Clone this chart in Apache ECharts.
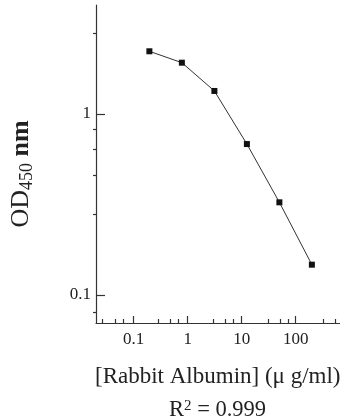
<!DOCTYPE html>
<html>
<head>
<meta charset="utf-8">
<script src="https://cdn.jsdelivr.net/npm/echarts@6/dist/echarts.min.js"></script>
<style>html,body{margin:0;padding:0;background:#fff}#c{width:342px;height:420px}</style>
</head>
<body>
<div id="c"></div>
<script>
var concentration = [0.195, 0.78, 3.125, 12.5, 50, 200];
var od450 = [2.22, 1.92, 1.34, 0.682, 0.325, 0.147];
var xMajorTicks = [0.1, 1, 10, 100];
var xMinorTicks = [0.03, 0.05, 0.07, 0.3, 0.5, 0.7, 3, 5, 7, 30, 50, 70, 300, 500];
var yMajorTicks = [0.1, 1];
var yMinorTicks = [0.08, 0.28, 0.46, 0.64, 0.82, 2.8];
var xRange = [0.02, 650];
var yRange = [0.07, 4];

var FONT = 'Liberation Serif';
var INK = '#222';
var chart = echarts.init(document.getElementById('c'), null, {renderer: 'canvas'});
var gridBox = {left: 93, top: 5, right: 0, bottom: 97};
function fmt(v){ return String(+v.toPrecision(6)); }

chart.setOption({
  animation: false,
  backgroundColor: '#fff',
  title: {
    text: 'R{sup|2} = 0.999',
    left: 164, top: 394,
    textStyle: {
      fontFamily: FONT, fontSize: 22.5, fontWeight: 'normal', color: INK,
      rich: {sup: {fontFamily: FONT, fontSize: 15, color: INK, verticalAlign: 'top', lineHeight: 12}}
    }
  },
  grid: [
    Object.assign({}, gridBox),
    Object.assign({}, gridBox)
  ],
  xAxis: [{
    type: 'log', logBase: 10, gridIndex: 0,
    min: xRange[0], max: xRange[1],
    position: 'bottom',
    name: '[Rabbit Albumin] (\u03bc g/ml)',
    nameLocation: 'middle', nameGap: 42,
    nameTextStyle: {fontFamily: FONT, fontSize: 23, color: INK},
    axisLine: {show: true, lineStyle: {color: '#333', width: 1.2}},
    axisTick: {show: true, inside: true, length: 7, customValues: xMajorTicks, lineStyle: {color: '#333', width: 1.2}},
    axisLabel: {show: true, customValues: xMajorTicks, formatter: fmt, margin: 8,
      fontFamily: FONT, fontSize: 17, color: INK},
    splitLine: {show: false}
  }, {
    type: 'log', logBase: 10, gridIndex: 1,
    min: xRange[0], max: xRange[1],
    position: 'bottom',
    axisLine: {show: false},
    axisTick: {show: true, inside: true, length: 4, customValues: xMinorTicks, lineStyle: {color: '#333', width: 1.2}},
    axisLabel: {show: false},
    splitLine: {show: false}
  }],
  yAxis: [{
    type: 'log', logBase: 10, gridIndex: 0,
    min: yRange[0], max: yRange[1],
    position: 'left',
    name: '{a|OD}{s|450}{b| nm}',
    nameLocation: 'middle', nameGap: 60,
    nameTextStyle: {
      fontFamily: FONT, fontSize: 26, color: INK,
      padding: [0, 20, 0, 0],
      rich: {
        a: {fontFamily: FONT, fontSize: 26, color: INK, lineHeight: 30},
        s: {fontFamily: FONT, fontSize: 18, color: INK, verticalAlign: 'bottom', lineHeight: 14},
        b: {fontFamily: FONT, fontSize: 26, fontWeight: 'bold', color: INK, lineHeight: 30}
      }
    },
    axisLine: {show: true, lineStyle: {color: '#333', width: 1.2}},
    axisTick: {show: true, inside: true, length: 9, customValues: yMajorTicks, lineStyle: {color: '#333', width: 1.2}},
    axisLabel: {show: true, customValues: yMajorTicks, formatter: fmt, margin: 5,
      fontFamily: FONT, fontSize: 17, color: INK},
    splitLine: {show: false}
  }, {
    type: 'log', logBase: 10, gridIndex: 1,
    min: yRange[0], max: yRange[1],
    position: 'left',
    axisLine: {show: false},
    axisTick: {show: true, inside: true, length: 4, customValues: yMinorTicks, lineStyle: {color: '#333', width: 1.2}},
    axisLabel: {show: false},
    splitLine: {show: false}
  }],
  series: [{
    type: 'line',
    xAxisIndex: 0, yAxisIndex: 0,
    data: concentration.map(function(c, i){ return [c, od450[i]]; }),
    symbol: 'rect', symbolSize: 6,
    itemStyle: {color: '#111'},
    lineStyle: {color: '#333', width: 1},
    z: 5
  }]
});
</script>
</body>
</html>
